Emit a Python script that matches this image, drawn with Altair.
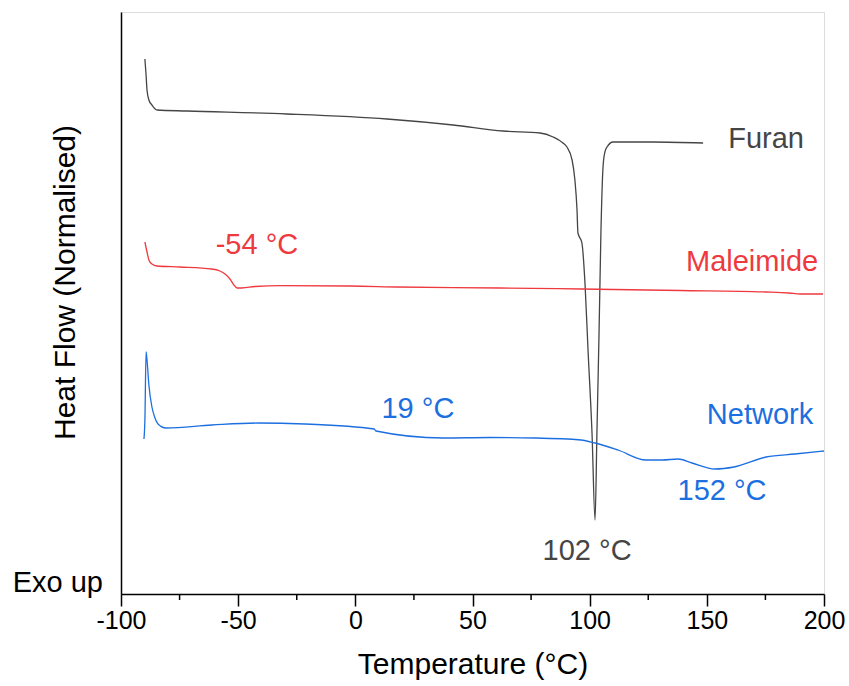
import altair as alt
import pandas as pd

# Temperature (°C) and normalised heat flow (arbitrary units, offset per curve)
furan_T = [-89.8, -89.3, -88.9, -88.1, -86.8, -84.6, -71.8, -29.2, 13.5, 41.7, 63.0, 78.8,
           84.4, 88.6, 90.3, 92.5, 93.7, 94.6, 95.0, 96.3, 96.7, 98.0, 99.3, 101.0, 102.3,
           103.1, 104.0, 104.8, 105.7, 106.5, 107.4, 110.0, 127.0, 148.4]
furan_hf = [535, 519, 504, 494, 489, 484, 483, 480, 475, 469, 463, 461,
            457, 451, 447, 434, 414, 384, 361, 354, 351, 311, 244, 161, 74,
            161, 261, 361, 427, 442, 447, 452, 452, 451]

mal_T = [-89.8, -88.9, -88.1, -86.8, -84.6, -74.8, -61.2, -57.8, -55.6, -53.5, -51.8,
         -50.5, -48.4, -42.8, -31.7, -2.3, 17.8, 61.7, 96.3, 138.6, 175.3, 185.1, 189.8, 199.6]
mal_hf = [352, 342, 334, 330, 328, 327, 325, 323, 320, 315, 309,
          306, 306, 307.5, 308.3, 308, 307, 306, 305, 303.5, 302, 301, 300, 300]

net_T = [-90.2, -89.8, -89.3, -88.9, -88.1, -86.8, -85.5, -84.2, -80.8, -61.2, -41.5, -21.5,
         8.0, 8.8, 37.4, 57.5, 76.7, 96.3, 102.3, 112.1, 124.0, 131.0, 137.7, 143.7, 153.5,
         161.6, 175.3, 187.6, 200.0]
net_hf = [155, 174, 242, 234, 209, 187, 176, 170, 166, 169, 171, 170,
          165, 163, 156, 156.5, 156, 154, 151, 144, 134, 134, 135, 131, 125,
          127, 137, 140, 143]

series_names = ["Furan", "Maleimide", "Network"]
series_colors = ["#454545", "#ee3a3f", "#1c6fe0"]

label_text = ["Furan", "Maleimide", "Network", "-54 °C", "19 °C", "152 °C", "102 °C"]
label_T = [175.3, 169.3, 172.7, -42.0, 26.7, 156.5, 98.9]
label_hf = [455, 332, 179, 349, 185, 103, 43]
label_series = ["Furan", "Maleimide", "Network", "Maleimide", "Network", "Network", "Furan"]

x_ticks = [-100, -50, 0, 50, 100, 150, 200]
x_minor = [-75, -25, 25, 75, 125, 175]

rows = []
for name, Ts, hs in [("Furan", furan_T, furan_hf), ("Maleimide", mal_T, mal_hf), ("Network", net_T, net_hf)]:
    for i, (t, h) in enumerate(zip(Ts, hs)):
        rows.append({"series": name, "T": t, "hf": h, "order": i})
df = pd.DataFrame(rows)

labels = pd.DataFrame({"text": label_text, "T": label_T, "hf": label_hf, "series": label_series})
minor = pd.DataFrame({"T": x_minor})

xscale = alt.Scale(domain=[-100, 200], nice=False, zero=False)
yscale = alt.Scale(domain=[0, 582], nice=False, zero=False)
cscale = alt.Scale(domain=series_names, range=series_colors)

FONT = "Liberation Sans"

lines = alt.Chart(df).mark_line(strokeWidth=1.3, interpolate="monotone").encode(
    x=alt.X("T:Q", scale=xscale,
            axis=alt.Axis(values=x_ticks, title="Temperature (°C)", grid=False,
                          labelExpr="'' + datum.value",
                          tickSize=12, tickColor="black", tickWidth=1.5,
                          domainColor="black", domainWidth=1.5,
                          labelFontSize=25, labelColor="black", labelFont=FONT,
                          labelPadding=2, labelFlush=False,
                          titleFontSize=30, titleFont=FONT, titleFontWeight="normal",
                          titleColor="black", titlePadding=16)),
    y=alt.Y("hf:Q", scale=yscale,
            axis=alt.Axis(title="Heat Flow (Normalised)", grid=False, labels=False, ticks=False,
                          domainColor="black", domainWidth=1.5,
                          titleFontSize=30, titleFont=FONT, titleFontWeight="normal",
                          titleColor="black", titlePadding=41, titleY=270)),
    color=alt.Color("series:N", scale=cscale, legend=None),
    detail="series:N",
    order="order:Q",
)

minor_ticks = alt.Chart(minor).mark_rule(color="black", strokeWidth=1.5).encode(
    x=alt.X("T:Q", scale=xscale),
    y=alt.value(582),
    y2=alt.value(588),
)

text = alt.Chart(labels).mark_text(fontSize=29, font=FONT, align="center", baseline="middle").encode(
    x=alt.X("T:Q", scale=xscale),
    y=alt.Y("hf:Q", scale=yscale),
    text="text:N",
    color=alt.Color("series:N", scale=cscale, legend=None),
)

exo = alt.Chart(pd.DataFrame({"T": [-100], "hf": [0], "text": ["Exo up"]})).mark_text(
    fontSize=29, font=FONT, align="right", baseline="alphabetic", dx=-18, dy=-2, color="black"
).encode(
    x=alt.X("T:Q", scale=xscale),
    y=alt.Y("hf:Q", scale=yscale),
    text="text:N",
)

chart = alt.layer(lines, minor_ticks, text, exo).properties(
    width=703, height=582,
    autosize=alt.AutoSizeParams(type="none"),
    padding={"left": 121, "top": 12, "right": 25, "bottom": 92},
).configure_view(stroke=None).configure(background="white")

chart.save("out.html", embed_options={"renderer": "svg", "actions": False})
